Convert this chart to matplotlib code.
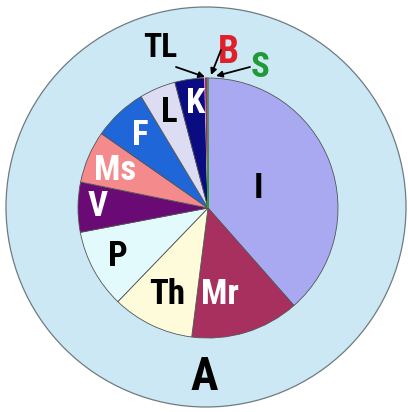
import matplotlib.pyplot as plt

# Pie values (percent), read clockwise from 12 o'clock
labels = ["I", "Mr", "Th", "P", "V", "Ms", "F", "L", "K", "TL", "B", "S"]
values = [38.5, 13.5, 10.2, 9.8, 6.2, 6.5, 6.7, 4.5, 3.7, 0.1, 0.2, 0.1]
colors = ["#a9a9f2", "#a8305f", "#fdfbd9", "#e2fafc", "#6a0a74", "#f48a8c",
          "#1f66d8", "#dcdcf3", "#0b0b82", "#c8c8e8", "#d4008c", "#30a030"]

H = 412  # figure height in px, used to flip y from picture coords

# label text: colour, size, position in picture px (x, y from top)
label_color = {"I": "black", "Mr": "white", "Th": "black", "P": "black",
               "V": "white", "Ms": "white", "F": "white", "L": "black",
               "K": "white", "TL": "black", "B": "#e02028", "S": "#1f9a35"}
label_size = {"TL": 24, "B": 27, "S": 25}
label_pos = {"I": (258, 188), "Mr": (220, 294), "Th": (167, 295), "P": (118, 256),
             "V": (98, 206), "Ms": (115, 170), "F": (140, 135), "L": (169, 112),
             "K": (196, 103), "TL": (160, 48), "B": (228, 52), "S": (260, 67)}
# small labels get arrows: tail -> head (px)
arrows = {"TL": ((176, 67), (205, 77)),
          "B": ((221, 50), (211, 75)),
          "S": ((250, 67), (216, 76))}

fig = plt.figure(figsize=(4.08, 4.12), dpi=100)
ax = fig.add_axes([0, 0, 1, 1])

# outer disc "A"
outer = plt.Circle((206, H - 207), 200, facecolor="#cce8f5",
                   edgecolor="#6f7b80", linewidth=0.9, zorder=0)
ax.add_patch(outer)

wedges, _ = ax.pie(values, colors=colors, startangle=90, counterclock=False,
                   center=(208, H - 208), radius=130,
                   wedgeprops=dict(edgecolor="#555555", linewidth=0.6))
# keep the very thin slices visible as coloured lines
for w, v, c in zip(wedges, values, colors):
    if v < 1:
        w.set_edgecolor(c)
        w.set_linewidth(0.8)

font = ["Roboto Condensed", "Liberation Sans Narrow", "DejaVu Sans Condensed",
        "Liberation Sans"]
for lab in labels:
    x, y = label_pos[lab]
    ax.text(x, H - y, lab, ha="center", va="center", fontweight="bold",
            family=font, fontsize=label_size.get(lab, 25),
            color=label_color[lab], zorder=5)

for lab, (tail, head) in arrows.items():
    ax.annotate("", xy=(head[0], H - head[1]), xytext=(tail[0], H - tail[1]),
                arrowprops=dict(arrowstyle="-|>", color="black", lw=1.3,
                                mutation_scale=9, shrinkA=0, shrinkB=0),
                zorder=6)

ax.text(204, H - 377, "A", ha="center", va="center", fontweight="bold",
        family=font, fontsize=33, color="black")

ax.set_xlim(0, 408)
ax.set_ylim(0, H)
ax.set_aspect("equal")
ax.axis("off")

plt.savefig("out.png", dpi=100, facecolor="white")
